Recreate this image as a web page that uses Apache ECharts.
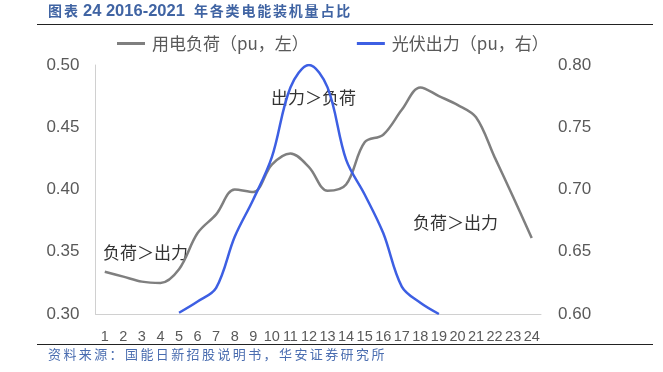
<!DOCTYPE html>
<html><head><meta charset="utf-8">
<script src="https://cdn.jsdelivr.net/npm/echarts@6/dist/echarts.min.js"></script>
<style>html,body{margin:0;padding:0;background:#fff}#c{width:663px;height:372px}</style>
</head><body><div id="c"></div>
<script>
var categories = ['1','2','3','4','5','6','7','8','9','10','11','12','13','14','15','16','17','18','19','20','21','22','23','24'];
var loadValues = [0.334,0.330,0.326,0.325,0.336,0.365,0.380,0.400,0.398,0.420,0.429,0.418,0.399,0.404,0.438,0.444,0.464,0.482,0.475,0.468,0.458,0.426,0.394,0.361];
var pvValues = [null,null,null,null,0.601,0.610,0.621,0.662,0.692,0.726,0.782,0.800,0.782,0.724,0.696,0.665,0.622,0.609,0.600,null,null,null,null,null];
var leftTicks = [0.30,0.35,0.40,0.45,0.50];
var rightTicks = [0.60,0.65,0.70,0.75,0.80];
var seriesNames = ['用电负荷（pu，左）','光伏出力（pu，右）'];
var titleHead = '图表';
var titleNum = '24 2016-2021';
var titleTail = '年各类电能装机量占比';
var sourceText = '资料来源：国能日新招股说明书，华安证券研究所';
var notes = [{t:'出力＞负荷',x:271,y:89},{t:'负荷＞出力',x:103,y:244},{t:'负荷＞出力',x:413,y:214}];

var chart = echarts.init(document.getElementById('c'), null, {renderer:'canvas'});
var cjk = '"Noto Sans CJK SC",sans-serif';
var graphics = [
  {type:'line', shape:{x1:37,y1:24.5,x2:653,y2:24.5}, style:{stroke:'#222',lineWidth:1.2}},
  {type:'line', shape:{x1:37,y1:344.5,x2:653,y2:344.5}, style:{stroke:'#222',lineWidth:1.2}},
  {type:'text', left:83, top:3, style:{text:titleNum, fill:'#4064a3', font:'bold 16.5px "Liberation Sans",sans-serif'}}
];
function spaced(str, x0, pitch, y, size, color, weight){
  for (var i=0;i<str.length;i++){
    graphics.push({type:'text', left:x0+i*pitch, top:y, style:{text:str.charAt(i), fill:color, font:(weight||'normal')+' '+size+'px '+cjk}});
  }
}
spaced(titleHead, 48, 16, 4, 14, '#4064a3', 'bold');
spaced(titleTail, 194, 15.8, 4, 14, '#4064a3', 'bold');
spaced(sourceText, 48, 15.4, 348, 13, '#4a6db0', 'normal');
notes.forEach(function(n){
  graphics.push({type:'text', left:n.x, top:n.y, style:{text:n.t, fill:'#333', font:'17px '+cjk}});
});
chart.setOption({
  animation:false,
  legend:{top:30, left:112, itemWidth:28, itemHeight:3, itemGap:48, icon:'rect',
    textStyle:{fontSize:17, color:'#595959', fontFamily:cjk, padding:[0,0,0,2]},
    data:seriesNames},
  grid:{left:95.5, right:122, top:65, bottom:58},
  xAxis:{type:'category', data:categories, boundaryGap:true,
    axisLine:{lineStyle:{color:'#d0d0d0'}}, axisTick:{show:false},
    axisLabel:{color:'#595959', fontSize:14.5, interval:0, margin:15, fontFamily:'"Liberation Sans",sans-serif'}},
  yAxis:[
    {type:'value', min:0.30, max:0.50, interval:0.05, splitLine:{show:false},
     axisLine:{show:true, lineStyle:{color:'#d0d0d0'}}, axisTick:{show:false},
     axisLabel:{color:'#595959', fontSize:17, margin:16, fontFamily:'"Liberation Sans",sans-serif', formatter:function(v){return v.toFixed(2);}}},
    {type:'value', min:0.60, max:0.80, interval:0.05, splitLine:{show:false},
     axisLine:{show:false}, axisTick:{show:false},
     axisLabel:{color:'#595959', fontSize:17, margin:17, fontFamily:'"Liberation Sans",sans-serif', formatter:function(v){return v.toFixed(2);}}}
  ],
  series:[
    {name:seriesNames[0], type:'line', yAxisIndex:0, data:loadValues, smooth:0.35, showSymbol:false,
     lineStyle:{color:'#7f7f7f', width:2.5}, itemStyle:{color:'#7f7f7f'}},
    {name:seriesNames[1], type:'line', yAxisIndex:1, data:pvValues, smooth:0.35, showSymbol:false,
     lineStyle:{color:'#3d5fe3', width:2.5}, itemStyle:{color:'#3d5fe3'}}
  ],
  graphic:graphics
});
</script></body></html>
